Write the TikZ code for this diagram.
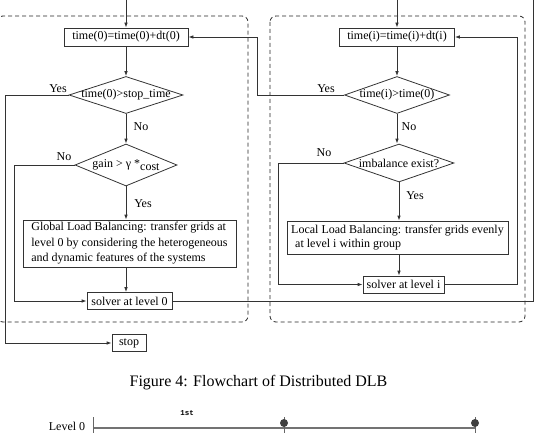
\documentclass[tikz,border=0pt]{standalone}
\usepackage{fontspec}
\setmainfont{Liberation Serif}
\newfontfamily\monof{Liberation Mono}
\usetikzlibrary{shapes.geometric,arrows.meta}
\begin{document}
\begin{tikzpicture}[x=1pt,y=-1pt,
  font=\fontsize{12}{14}\selectfont,
  flowline/.style={draw=black!80, line width=0.8pt},
  arr/.style={flowline,-{Latex[length=5pt,width=3.6pt]}},
  procbox/.style={draw=black!80, rectangle, inner sep=0pt, line width=0.8pt},
  decision/.style={draw=black!80, diamond, inner sep=0pt, line width=0.8pt},
  lbl/.style={inner sep=0pt},
  group/.style={draw=black!85, dash pattern=on 4pt off 3pt, rounded corners=6pt, line width=0.8pt}
]
\useasboundingbox (0,0) rectangle (537,433);
\clip (0,0) rectangle (537,433);

% dashed group frames
\draw[group] (-3,16) rectangle (248,322);
\draw[group] (270,16) rectangle (525,322);

% left flow
\node[procbox, minimum width=124pt, minimum height=18pt] (b0) at (126,37) {time(0)=time(0)+dt(0)};
\node[decision, minimum width=114pt, minimum height=37pt] (d1) at (126,95) {\makebox[0pt]{time(0)>stop\_time}};
\node[decision, minimum width=102pt, minimum height=42pt] (d2) at (126,165) {\makebox[0pt]{gain > γ *\raisebox{-3pt}{cost}}};
\node[procbox, minimum width=213pt, minimum height=47pt, align=left, font=\fontsize{12}{15.5}\selectfont] (gl) at (129.5,243.5) {Global Load Balancing: transfer grids at\\level 0 by considering the heterogeneous\\and dynamic features of the systems};
\node[procbox, minimum width=85pt, minimum height=17pt] (s0) at (129.5,301) {solver at level 0};
\node[procbox, minimum width=34pt, minimum height=17pt] (stop) at (129,343) {stop};

% right flow
\node[procbox, minimum width=115pt, minimum height=18pt] (bi) at (397,37) {time(i)=time(i)+dt(i)};
\node[decision, minimum width=105pt, minimum height=37pt] (d3) at (397,95) {\makebox[0pt]{time(i)>time(0)}};
\node[decision, minimum width=110pt, minimum height=38pt] (d4) at (399,163) {\makebox[0pt]{imbalance exist?}};
\node[procbox, minimum width=221pt, minimum height=33pt, align=left] (lo) at (397.5,237.5) {Local Load Balancing: transfer grids evenly\\\hspace{4pt}at level i within group};
\node[procbox, minimum width=81pt, minimum height=17pt] (si) at (403.5,284.5) {solver at level i};

% helper coordinates
\coordinate (t0) at (126,0);
\coordinate (ti) at (397,0);
\coordinate (xl) at (5,0);
\coordinate (xm) at (14,0);
\coordinate (xr) at (533,0);
\coordinate (xc) at (257,0);
\coordinate (xn) at (278,0);
\coordinate (xs) at (517,0);

% left connectors
\draw[arr] (t0) -- (b0.north);
\draw[arr] (b0.south) -- (d1.north);
\draw[arr] (d1.south) -- (d2.north);
\draw[arr] (d2.south) -- (d2.south |- gl.north);
\draw[arr] (d2.south |- gl.south) -- (d2.south |- s0.north);
\draw[arr] (d1.west) -- (d1.west -| xl) -- (xl |- stop.west) -- (stop.west);
\draw[arr] (d2.west) -- (d2.west -| xm) -- (xm |- s0.west) -- (s0.west);
\draw[flowline] (s0.east) -- (s0.east -| xr) -- (xr);

% right connectors
\draw[arr] (ti) -- (bi.north);
\draw[arr] (bi.south) -- (d3.north);
\draw[arr] (d3.south) -- (d3.south |- d4.north);
\draw[arr] (d4.south) -- (d4.south |- lo.north);
\draw[arr] (d4.south |- lo.south) -- (d4.south |- si.north);
\draw[arr] (d3.west) -- (d3.west -| xc) -- (xc |- b0.east) -- (b0.east);
\draw[arr] (d4.west) -- (d4.west -| xn) -- (xn |- si.west) -- (si.west);
\draw[arr] (si.east) -- (si.east -| xs) -- (xs |- bi.east) -- (bi.east);

% branch labels
\node[lbl] (y1) at (58,89) {Yes};
\node[lbl] (n1) at (141,127) {No};
\node[lbl] (n2) at (64,157) {No};
\node[lbl] (y2) at (143,204) {Yes};
\node[lbl] (y3) at (326,89) {Yes};
\node[lbl] (n3) at (409,127) {No};
\node[lbl] (n4) at (324,153) {No};
\node[lbl] (y4) at (415,196) {Yes};

% caption
\node[lbl] (cap) at (258.5,383) {\fontsize{16}{19}\selectfont Figure 4: Flowchart of Distributed DLB};

% bottom strip
\node[lbl, anchor=base] (lv) at (67,430.5) {Level 0};
\node[lbl, font=\monof\bfseries\fontsize{7.5}{9}\selectfont] (first) at (187,413) {1st};
\coordinate (a0) at (93,428);
\coordinate (a2) at (475,428);
\draw[black!55, line width=1.2pt] (a0) -- (a2);
\draw[black!60, line width=0.8pt] (93,417) -- (93,433);
\draw[black!60, line width=0.8pt] (284,417) -- (284,433);
\draw[black!60, line width=0.8pt] (475,417) -- (475,433);
\node[circle, fill=black!75, minimum size=8pt, inner sep=0pt] (p1) at (284,423) {};
\node[circle, fill=black!75, minimum size=8pt, inner sep=0pt] (p2) at (475,423) {};
\end{tikzpicture}
\end{document}
